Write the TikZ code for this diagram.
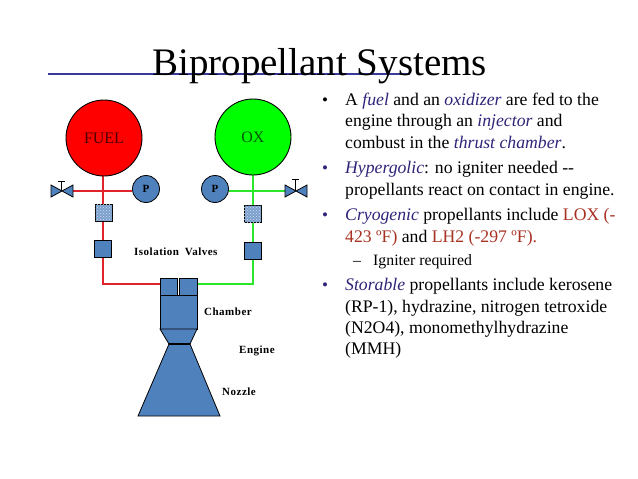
\documentclass[tikz,border=0pt]{standalone}
\usepackage{fontspec}
\setmainfont{Liberation Serif}
\usetikzlibrary{patterns,backgrounds}
\definecolor{bluefill}{HTML}{4F81BD}
\definecolor{rulecol}{HTML}{3A3A9A}
\definecolor{navy}{HTML}{2E2478}
\definecolor{brick}{HTML}{A83222}
\definecolor{redline}{HTML}{E0242C}
\definecolor{greenline}{HTML}{2CE62C}
\newcommand{\nv}[1]{\textcolor{navy}{\textit{#1}}}
\newcommand{\brk}[1]{\textcolor{brick}{#1}}
\newcommand{\tagfont}{\bfseries\fontsize{11}{11}\selectfont\addfontfeatures{LetterSpace=4.5}}
\tikzset{
  x=1pt,y=-1pt,
  tank/.style={circle,draw=black,line width=0.9pt,minimum size=76pt,inner sep=0pt,font=\fontsize{16}{16}\selectfont},
  pump/.style={circle,draw=black,line width=0.8pt,fill=bluefill,minimum size=27pt,inner sep=0pt,font=\bfseries\fontsize{11}{11}\selectfont},
  valvebox/.style={rectangle,draw=black,line width=0.8pt,fill=bluefill,minimum size=17.5pt,inner sep=0pt},
  filterbox/.style={rectangle,draw=black,line width=0.8pt,fill=bluefill!75!white,postaction={pattern=crosshatch dots,pattern color=white!75!bluefill},minimum size=17pt,inner sep=0pt},
  part/.style={draw=black,line width=0.8pt,fill=bluefill,line join=miter},
  redpipe/.style={draw=redline,line width=1.8pt},
  greenpipe/.style={draw=greenline,line width=1.8pt},
  tag/.style={font=\tagfont,inner sep=0pt,anchor=west},
  body/.style={font=\fontsize{17.7}{17.7}\selectfont,inner sep=0pt,anchor=base west},
  subbody/.style={font=\fontsize{15.8}{15.8}\selectfont,inner sep=0pt,anchor=base west},
  dot/.style={font=\fontsize{17}{17}\selectfont,inner sep=0pt,anchor=base west},
}
\begin{document}
\begin{tikzpicture}
\useasboundingbox (0,0) rectangle (638,479);
\begin{scope}[on background layer]
\fill[white] (0,0) rectangle (638,479);
\end{scope}
% title
\draw[rulecol,line width=1.2pt] (48,74) -- (410,74);
\node[font=\fontsize{39}{39}\selectfont,inner sep=0pt,anchor=base west] (title) at (152,75) {Bipropellant Systems};
% tanks, pumps
\node[tank,fill=red] (fuel) at (104,138) {\textcolor{black!70!red}{FUEL}};
\node[tank,fill=green] (ox) at (253,137) {\textcolor{black!65!green}{OX}};
\node[pump] (pf) at (146,189) {P};
\node[pump] (po) at (215,189) {P};
% junctions
\coordinate (jf) at (103,191);
\coordinate (jo) at (253,191);
\coordinate (vl) at (73,191);
\coordinate (vr) at (285,191);
\coordinate (cf) at (103,284);
\coordinate (co) at (253,284);
% boxes
\node[filterbox] (ff) at (103.5,212.5) {};
\node[filterbox] (fo) at (252.5,213.5) {};
\node[valvebox] (vf) at (103,249) {};
\node[valvebox] (vo) at (253,251) {};
% injector heads
\node[valvebox,minimum width=17.5pt,minimum height=17pt] (inj1) at (168.75,286.5) {};
\node[valvebox,minimum width=17.5pt,minimum height=17pt] (inj2) at (188.25,286.5) {};
% connectors
\begin{scope}[on background layer]
\draw[redpipe] (jf |- fuel.south) -- (jf |- ff.north);
\draw[redpipe] (jf |- ff.south) -- (jf |- vf.north);
\draw[redpipe] (vf.south) -- (cf) -- (inj1.west |- cf);
\draw[redpipe] (vl) -- (jf) -- (pf.west |- jf);
\draw[greenpipe] (jo |- ox.south) -- (jo |- fo.north);
\draw[greenpipe] (jo |- fo.south) -- (jo |- vo.north);
\draw[greenpipe] (vo.south) -- (co) -- (inj2.east |- co);
\draw[greenpipe] (po.east |- jo) -- (jo) -- (vr);
\end{scope}
% valves
\draw[part] (51,185) -- (73,197) -- (73,185) -- (51,197) -- cycle;
\draw[black,line width=0.8pt] (61,191) -- (61,181) (57.5,181) -- (65,181);
\draw[part] (285,185) -- (307,197) -- (307,185) -- (285,197) -- cycle;
\draw[black,line width=0.8pt] (295,191) -- (295,179) (291.5,179) -- (299,179);
% engine
\draw[part] (160,295) rectangle (197,329);
\draw[part] (160,329) -- (197,329) -- (190,344) -- (169,344) -- cycle;
\draw[part] (169,344) -- (190,344) -- (220,416) -- (138,416) -- cycle;
\draw[black,line width=1.4pt] (169,344) -- (190,344);
% labels
\node[tag] (l1) at (134,252) {Isolation\hspace{2.5pt} Valves};
\node[tag] (l2) at (204,312) {Chamber};
\node[tag] (l3) at (239,351) {Engine};
\node[tag] (l4) at (222,392) {Nozzle};
% bullets
\node[dot] (b1) at (322,105.5) {•};
\node[dot,navy] (b2) at (322,173.5) {•};
\node[dot,navy] (b3) at (322,220.5) {•};
\node[dot,navy] (b4) at (322,290.5) {•};
% text
\node[body] (t1) at (345,105) {A \nv{fuel} and an \nv{oxidizer} are fed to the};
\node[body] (t2) at (345,126) {engine through an \nv{injector} and};
\node[body] (t3) at (345,148) {combust in the \nv{thrust chamber}.};
\node[body] (t4) at (345,173) {\nv{Hypergolic}: no igniter needed \mbox{-}\mbox{-}};
\node[body] (t5) at (345,195) {propellants react on contact in engine.};
\node[body] (t6) at (345,220) {\nv{Cryogenic} propellants include \brk{LOX (-}};
\node[body] (t7) at (345,242) {\brk{423 ºF)} and \brk{LH2 (-297 ºF).}};
\node[subbody] (d1) at (353,265) {–};
\node[subbody] (t8) at (373,265) {Igniter required};
\node[body] (t9) at (345,290) {\nv{Storable} propellants include kerosene};
\node[body] (t10) at (345,312) {(RP-1), hydrazine, nitrogen tetroxide};
\node[body] (t11) at (345,333) {(N2O4), monomethylhydrazine};
\node[body] (t12) at (345,354) {(MMH)};
\end{tikzpicture}
\end{document}
